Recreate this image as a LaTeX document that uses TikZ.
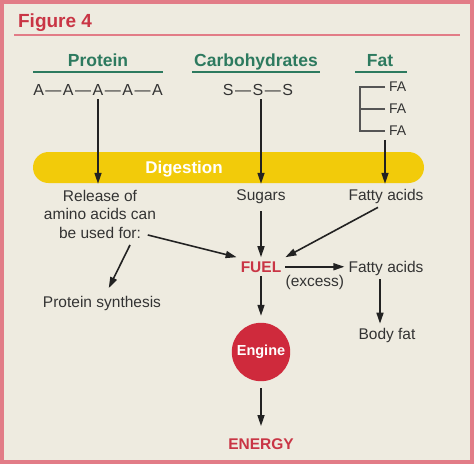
\documentclass[tikz,border=0pt]{standalone}
\usepackage{fontspec}
\setmainfont{Liberation Sans}
\usetikzlibrary{arrows.meta,positioning,calc}

\definecolor{framepink}{HTML}{E27C87}
\definecolor{paper}{HTML}{EEEBE0}
\definecolor{headgreen}{HTML}{2D7A5F}
\definecolor{fuelred}{HTML}{C93545}
\definecolor{bargold}{HTML}{F2CB0A}
\definecolor{enginered}{HTML}{CF2A3C}
\definecolor{textgray}{HTML}{333333}
\definecolor{arrowgray}{HTML}{222222}
\definecolor{bracketgray}{HTML}{555555}

\newcommand{\chaindash}{\kern1.5pt\textemdash\kern1.5pt}

\begin{document}
\begin{tikzpicture}[x=1pt, y=-1pt, ->, >={Triangle[length=11pt,width=7pt]}, line width=1.6pt,
    color=arrowgray, text=textgray, font=\fontsize{15.5}{18.5}\selectfont]
		\tikzstyle{heading}=[font=\fontsize{17.5}{20}\selectfont\bfseries, text=headgreen, anchor=base]
		\tikzstyle{plain}=[anchor=base]
		\tikzstyle{keyword}=[font=\fontsize{15.5}{18}\selectfont\bfseries, text=fuelred, anchor=base]
		\tikzstyle{rule}=[-, line width=1.8pt, draw=headgreen]
		\tikzstyle{bracket}=[-, line width=1.3pt, draw=bracketgray]
		\useasboundingbox (0,0) rectangle (474,464);
		% frame and title
		\draw[-, line width=4pt, draw=framepink, fill=paper] (2,2) rectangle (472,462);
		\node[anchor=base west, font=\fontsize{19}{22}\selectfont\bfseries, text=fuelred] (fig) at (14,27) {Figure 4};
		\draw[-, line width=1.5pt, draw=framepink] (14,35) -- (460,35);
		% food groups
		\node[heading]  (protein)  at (98,66)   {Protein};
		\node[heading]  (carbs)    at (256,66)  {Carbohydrates};
		\node[heading]  (fat)      at (380,66)  {Fat};
		\draw[rule] (33,72) -- (163,72);
		\draw[rule] (192,72) -- (320,72);
		\draw[rule] (355,72) -- (407,72);
		\node[plain, font=\fontsize{16}{19}\selectfont] (chainA) at (98,95)  {A\chaindash A\chaindash A\chaindash A\chaindash A};
		\node[plain, font=\fontsize{16}{19}\selectfont] (chainS) at (258,95) {S\chaindash S\chaindash S};
		\node[anchor=west, font=\fontsize{14}{16}\selectfont] (fa1) at (385,87)  {FA};
		\node[anchor=west, font=\fontsize{14}{16}\selectfont] (fa2) at (385,109) {FA};
		\node[anchor=west, font=\fontsize{14}{16}\selectfont] (fa3) at (385,131) {FA};
		\draw[bracket] (fa1.west) -- ++(-25,0) |- (fa3.west);
		\draw[bracket] (fa2.west) -- ++(-25,0);
		% digestion
		\node[fill=bargold, rounded corners=15.5pt, minimum width=391pt, minimum height=31pt, inner sep=0pt] (bar) at (228.5,167.5) {};
		\node[anchor=base, font=\fontsize{17}{20}\selectfont\bfseries, text=white] (digest) at (184,173) {Digestion};
		% products
		\node[anchor=north, align=center, inner sep=0pt] (release) at (100,189) {Release of\\amino acids can\\be used for:};
		\node[plain]    (sugars)   at (261,200) {Sugars};
		\node[plain]    (fattyA)   at (386,200) {Fatty acids};
		\node[keyword]  (fuel)     at (261,272) {FUEL};
		\node[plain]    (fattyB)   at (386,272) {Fatty acids};
		\node[plain]    (psyn)     at (102,307) {Protein synthesis};
		\node[plain]    (bodyfat)  at (387,339) {Body fat};
		\node[circle, fill=enginered, minimum size=58pt, outer sep=7pt, text=white,
		      font=\fontsize{14.5}{17}\selectfont\bfseries] (engine) at (261,352) {Engine};
		\node[keyword]  (energy)   at (261,449) {ENERGY};
		\path
		(chainA.south) edge (chainA.south |- bar.south)
		(sugars.north |- chainS.south) edge (sugars.north |- bar.south)
		(fa3.south west) edge (fa3.south west |- bar.south)
		(sugars.south) edge[shorten <=4pt] (sugars.south |- fuel.north)
		([xshift=-8pt]fattyA.south) edge (fuel.north east)
		([xshift=-9pt,yshift=4pt]release.south east) edge (fuel.north west)
		([xshift=30pt,yshift=-6pt]release.south) edge[shorten >=4pt] ([xshift=5pt]psyn.north)
		(fuel) edge node[below=4pt, text=textgray] {(excess)} (fuel -| fattyB.west)
		(fuel) edge (engine)
		([xshift=-6pt]fattyB.south) edge ([xshift=-7pt]bodyfat.north)
		(engine) edge[shorten >=8pt] (energy);
	\end{tikzpicture}
\end{document}
